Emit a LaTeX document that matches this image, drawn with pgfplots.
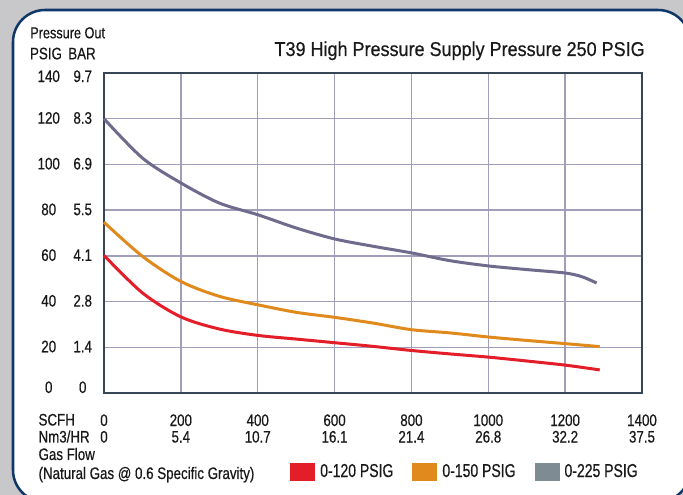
\documentclass[border=0pt]{standalone}
\usepackage{fontspec}
\setmainfont{Liberation Sans}[FakeStretch=0.8, FakeBold=0.5]
\newfontfamily\titlefont{Liberation Sans}[FakeStretch=0.9, FakeBold=0.5]
\newfontfamily\legfont{Liberation Sans}[FakeStretch=0.75, FakeBold=0.5]
\usepackage{pgfplots}
\pgfplotsset{compat=1.18}

\definecolor{bggray}{RGB}{200,200,202}
\definecolor{navy}{RGB}{16,55,105}
\definecolor{gridc}{RGB}{160,158,186}
\definecolor{axisc}{RGB}{55,70,85}
\definecolor{txt}{RGB}{25,25,25}
\definecolor{redc}{RGB}{228,30,40}
\definecolor{orangec}{RGB}{224,138,30}
\definecolor{grayline}{RGB}{110,107,140}
\definecolor{graykey}{RGB}{126,139,147}

% two columns of y tick labels: PSIG and BAR
\newcommand\yl[3][0pt]{\raisebox{#1}{\makebox[30pt][c]{#2}\makebox[21pt][c]{#3}}}

\begin{document}
\begin{tikzpicture}
\useasboundingbox (0,0) rectangle (512.25pt,-371.25pt);
\fill[bggray] (0,0) rectangle (512.25pt,-371.25pt);
\begin{scope}[x=0.75pt,y=-0.75pt]
\draw[navy, line width=1.9pt, fill=white, rounded corners=24pt] (13,10) rectangle (690,502);
\end{scope}

\begin{axis}[
    at={(78pt,-294.75pt)}, anchor=south west,
    scale only axis,
    width=403.5pt, height=240pt,
    xmin=0, xmax=1400, ymin=0, ymax=140,
    xtick={0,200,...,1400},
    ytick={0,20,...,140},
    xticklabels={0,200,400,600,800,1000,1200,1400},
    yticklabels={{\yl[3.75pt]{0}{0}},{\yl{20}{1.4}},{\yl{40}{2.8}},{\yl{60}{4.1}},
                 {\yl{80}{5.5}},{\yl{100}{6.9}},{\yl{120}{8.3}},{\yl[-3pt]{140}{9.7}}},
    extra x ticks={0,200,...,1400},
    extra x tick labels={0,5.4,10.7,16.1,21.4,26.8,32.2,37.5},
    extra x tick style={grid=none, xticklabel style={yshift=-12.4pt}},
    grid=major,
    major grid style={gridc, line width=1.1pt},
    axis line style={axisc, line width=1.5pt},
    major tick length=0pt,
    /pgf/number format/assume math mode=true,
    tick label style={font=\fontsize{12.5}{13}\selectfont, text=txt},
    xticklabel style={anchor=base, inner sep=0pt, yshift=-24.75pt},
    yticklabel style={anchor=base east, inner sep=0pt, xshift=-5.25pt, yshift=-3.75pt},
    legend columns=3,
    legend style={at={(0.3457,-0.2453)}, anchor=west, draw=none, fill=none,
        inner sep=0pt, nodes={inner sep=0pt, text=txt},
        font=\legfont\fontsize{14}{14}\selectfont,
        /tikz/every odd column/.append style={column sep=4.1pt},
        /tikz/every even column/.append style={column sep=14.25pt}},
    legend image code/.code={\fill[#1] (0pt,-6.4pt) rectangle (18pt,6.4pt);},
    clip=false
]

% 0-120 PSIG
\addplot[redc, line width=2.25pt, smooth, forget plot] coordinates {
    (0,60.2) (100,43.8) (200,33.3) (300,28.0) (400,25.2) (500,23.6) (600,22.0)
    (700,20.4) (800,18.6) (900,17.1) (1000,15.7) (1100,14.0) (1200,12.2) (1290,10.1)
};
% 0-150 PSIG
\addplot[orangec, line width=2.25pt, smooth, forget plot] coordinates {
    (0,74.7) (100,59.8) (200,48.8) (300,42.3) (400,38.6) (500,35.3) (600,33.1)
    (700,30.6) (800,27.7) (900,26.3) (1000,24.5) (1100,23.0) (1200,21.6) (1290,20.3)
};
% 0-225 PSIG
\addplot[grayline, line width=2.25pt, smooth, forget plot] coordinates {
    (0,120.0) (100,102.8) (200,91.9) (300,83.1) (400,78.0) (500,72.2) (600,67.4)
    (700,64.2) (800,61.3) (900,57.9) (1000,55.6) (1100,54.0) (1200,52.5) (1245,50.8) (1282,48.1)
};

\addlegendimage{redc}\addlegendentry{0-120 PSIG}
\addlegendimage{orangec}\addlegendentry{0-150 PSIG}
\addlegendimage{graykey}\addlegendentry{0-225 PSIG}
\end{axis}

\begin{scope}[x=0.75pt,y=-0.75pt, every node/.style={inner sep=0pt, text=txt}]
\node[anchor=base west, font=\fontsize{11.9}{12}\selectfont] at (30,38.3) {Pressure Out};
\node[anchor=base, font=\fontsize{12.5}{13}\selectfont] at (46,59.3) {PSIG};
\node[anchor=base, font=\fontsize{12.5}{13}\selectfont] at (82,59.3) {BAR};
\node[anchor=base east, font=\titlefont\fontsize{15}{16}\selectfont] at (645,56)
    {T39 High Pressure Supply Pressure 250 PSIG};
\node[anchor=base west, font=\fontsize{12.5}{13}\selectfont] at (38.3,425.5) {SCFH};
\node[anchor=base west, font=\fontsize{12.5}{13}\selectfont] at (38.3,442.5) {Nm3/HR};
\node[anchor=base west, font=\fontsize{12.5}{13}\selectfont] at (38.3,460) {Gas Flow};
\node[anchor=base west, font=\fontsize{12.5}{13}\selectfont] at (38.3,479)
    {(Natural Gas @ 0.6 Specific Gravity)};
\end{scope}
\end{tikzpicture}
\end{document}
